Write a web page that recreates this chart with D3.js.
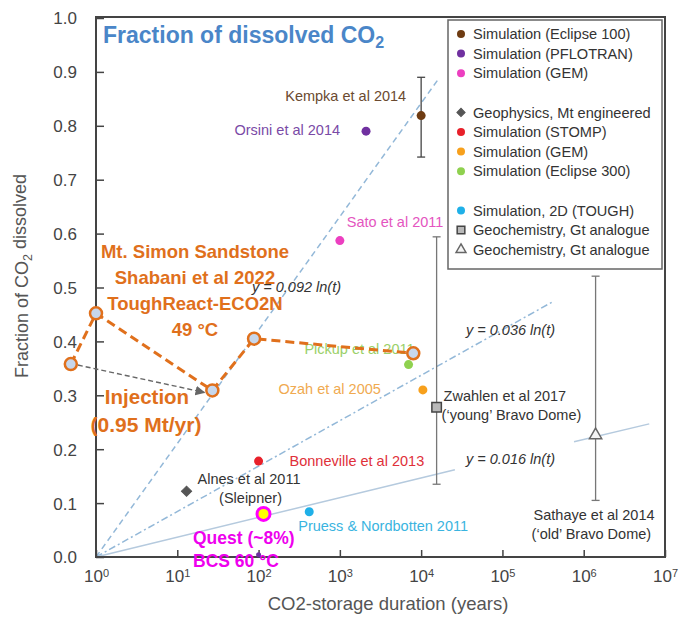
<!DOCTYPE html>
<meta charset="utf-8">
<style>
body { margin: 0; background: #fff; }
svg { font-family: "Liberation Sans", Arial, sans-serif; }
.tick line { stroke: #444; stroke-width: 1.5px; }
.tick text { fill: #444; font-size: 17px; }
.lbl { font-size: 14.5px; }
.fit-lbl { font-size: 14.5px; font-style: italic; fill: #333; }
.orange { fill: #e0701c; font-weight: bold; }
</style>
<html>
<body>
<script src="https://cdn.jsdelivr.net/npm/d3@7"></script>
<script>
// ---- data ----
var yTicks = [0, 0.1, 0.2, 0.3, 0.4, 0.5, 0.6, 0.7, 0.8, 0.9, 1.0];
var xTicks = [1, 10, 100, 1e3, 1e4, 1e5, 1e6, 1e7];

var legendLabels = [
  "Simulation (Eclipse 100)", "Simulation (PFLOTRAN)", "Simulation (GEM)",
  "Geophysics, Mt engineered", "Simulation (STOMP)", "Simulation (GEM)", "Simulation (Eclipse 300)",
  "Simulation, 2D (TOUGH)", "Geochemistry, Gt analogue", "Geochemistry, Gt analogue"
];
var legendGroup = [0, 0, 0, 1, 1, 1, 1, 2, 2, 2];

var studyNames = ["Kempka et al 2014", "Orsini et al 2014", "Sato et al 2011", "Pickup et al 2011",
  "Ozah et al 2005", "Bonneville et al 2013", "Alnes et al 2011", "Pruess & Nordbotten 2011",
  "Zwahlen et al 2017", "Sathaye et al 2014", ""];
var studyNotes = ["", "", "", "", "", "", "(Sleipner)", "", "(\u2018young\u2019 Bravo Dome)", "(\u2018old\u2019 Bravo Dome)", ""];
var studyYears = [1e4, 2100, 1000, 7000, 10500, 100, 13, 420, 15500, 1.4e6, 100];
var studyFraction = [0.819, 0.79, 0.587, 0.357, 0.31, 0.178, 0.122, 0.084, 0.278, 0.226, 0.004];
var studyCategory = [0, 1, 2, 6, 5, 4, 3, 7, 8, 9, 1];
var errLow = [0.742, null, null, null, null, null, null, null, 0.135, 0.105, null];
var errHigh = [0.89, null, null, null, null, null, null, null, 0.594, 0.521, null];

var shabaniYears = [0.49, 1, 27, 88, 8000];
var shabaniFraction = [0.358, 0.452, 0.309, 0.405, 0.378];

var questYears = [115];
var questFraction = [0.08];

var fitLabels = ["y = 0.092 ln(t)", "y = 0.036 ln(t)", "y = 0.016 ln(t)"];
var fitYears = [[1, 1.6e4], [1, 4.2e5], [1, 2.6e4], [7.6e5, 6.4e6]];
var fitFraction = [[0, 0.885], [0, 0.474], [0, 0.162], [0.214, 0.247]];
var fitOf = [0, 1, 2, 2];

// ---- styles ----
var catColor = ["#6e3b12", "#7030a0", "#ec3fc0", "#555555", "#e8202a", "#f7a01c", "#8fd14f", "#1fb0e8", "#b9b9b9", "#f4f4f4"];
var catShape = ["circle", "circle", "circle", "diamond", "circle", "circle", "circle", "circle", "square", "triangle"];
var labelColor = ["#6b4a30", "#7a4aa6", "#e455c0", "#333", "#e0303a", "#f0aa50", "#9ad068", "#3ab4e0", "#333", "#333"];
// label offsets from the marker (px)
var labelPlace = {
  "Kempka et al 2014": [-15, -15, "end"],
  "Orsini et al 2014": [-26, 4, "end"],
  "Sato et al 2011": [7, -14, "start"],
  "Pickup et al 2011": [6, -11, "end"],
  "Ozah et al 2005": [-42, 4, "end"],
  "Bonneville et al 2013": [31, 5, "start"],
  "Alnes et al 2011": [11, -7, "start"],
  "Pruess & Nordbotten 2011": [-11, 19, "start"],
  "Zwahlen et al 2017": [7, -6, "start"],
  "Sathaye et al 2014": [-62, 85, "start"]
};

var width = 679, height = 617;
var svg = d3.select("body").append("svg").attr("width", width).attr("height", height);

var x = d3.scaleLog().domain([1, 1e7]).range([96, 665]);
var y = d3.scaleLinear().domain([0, 1]).range([557, 18]);

// fit lines
var fitDash = ["6,4", "7,3,2,3", null];
fitYears.forEach(function(ts, i) {
  svg.append("line")
    .attr("x1", x(ts[0])).attr("y1", y(fitFraction[i][0]))
    .attr("x2", x(ts[1])).attr("y2", y(fitFraction[i][1]))
    .attr("stroke", i < 2 ? "#93b8d8" : "#b5cade")
    .attr("stroke-width", 1.5)
    .attr("stroke-dasharray", fitDash[fitOf[i]]);
});
var fitLblPos = [[252, 292], [466, 335], [466, 464]];
fitLabels.forEach(function(t, i) {
  svg.append("text").attr("class", "fit-lbl").attr("x", fitLblPos[i][0]).attr("y", fitLblPos[i][1]).text(t);
});

// axes
var yAxis = d3.axisLeft(y).tickValues(yTicks).tickSize(-8).tickPadding(19).tickFormat(d3.format(".1f"));
var gy = svg.append("g").attr("transform", "translate(96,0)").call(yAxis);
gy.select(".domain").remove();
gy.selectAll(".tick text").attr("dy", "0.35em");

var xAxis = d3.axisBottom(x).tickValues(xTicks).tickSize(-7).tickPadding(13).tickFormat("");
var gx = svg.append("g").attr("transform", "translate(0,557)").call(xAxis);
gx.select(".domain").remove();
gx.selectAll(".tick text").each(function(d) {
  var t = d3.select(this);
  t.text("10");
  t.append("tspan").attr("dy", "-0.45em").attr("font-size", "11px").text(Math.round(Math.log10(d)));
});

svg.append("rect").attr("x", 96).attr("y", 17).attr("width", 569).attr("height", 540)
  .attr("fill", "none").attr("stroke", "#444").attr("stroke-width", 2);

// axis titles
svg.append("text").attr("x", 388).attr("y", 610).attr("text-anchor", "middle")
  .attr("fill", "#555").attr("font-size", "18.5px").text("CO2-storage duration (years)");
var yt = svg.append("text").attr("transform", "translate(28,276) rotate(-90)").attr("text-anchor", "middle")
  .attr("fill", "#555").attr("font-size", "18px");
yt.append("tspan").text("Fraction of CO");
yt.append("tspan").attr("dy", "0.3em").attr("font-size", "12.5px").text("2");
yt.append("tspan").attr("dy", "-0.3em").text(" dissolved");

// chart title
var tt = svg.append("text").attr("x", 103).attr("y", 43).attr("fill", "#4a86c8")
  .attr("font-weight", "bold").attr("font-size", "23px");
tt.append("tspan").text("Fraction of dissolved CO");
tt.append("tspan").attr("dy", "0.3em").attr("font-size", "16px").text("2");

// markers
var symArea = { diamond: 52, square: 90, triangle: 65 };
function marker(g, shape, color, size, k) {
  if (shape == "circle") return g.append("circle").attr("r", size).attr("fill", color);
  var sym = shape == "triangle" ? d3.symbolTriangle : d3.symbolSquare;
  var p = g.append("path").attr("d", d3.symbol().type(sym).size(symArea[shape] * k)())
    .attr("fill", color).attr("stroke", shape == "diamond" ? color : shape == "square" ? "#444" : "#666")
    .attr("stroke-width", shape == "diamond" ? 1 : 1.5);
  if (shape == "diamond") p.attr("transform", "rotate(45)");
  return p;
}

// error bars
studyYears.forEach(function(t, i) {
  if (errLow[i] == null) return;
  var px = x(t), c = i == 0 ? "#444" : "#777";
  var eb = svg.append("g").attr("stroke", c).attr("stroke-width", 1.3);
  eb.append("line").attr("x1", px).attr("x2", px).attr("y1", y(errLow[i])).attr("y2", y(errHigh[i]));
  eb.append("line").attr("x1", px - 4).attr("x2", px + 4).attr("y1", y(errLow[i])).attr("y2", y(errLow[i]));
  eb.append("line").attr("x1", px - 4).attr("x2", px + 4).attr("y1", y(errHigh[i])).attr("y2", y(errHigh[i]));
});

// study points and labels
studyYears.forEach(function(t, i) {
  var px = x(t), py = y(studyFraction[i]), c = studyCategory[i];
  var g = svg.append("g").attr("transform", "translate(" + px + "," + py + ")");
  marker(g, catShape[c], catColor[c], i == 10 ? 2.5 : 4.5, 1);
  if (!studyNames[i]) return;
  var p = labelPlace[studyNames[i]];
  svg.append("text").attr("class", "lbl").attr("fill", labelColor[c])
    .attr("x", px + p[0]).attr("y", py + p[1]).attr("text-anchor", p[2]).text(studyNames[i]);
  if (studyNotes[i]) {
    var alnes = studyNames[i] == "Alnes et al 2011";
    svg.append("text").attr("class", "lbl").attr("fill", labelColor[c])
      .attr("x", alnes ? px + 64 : px + p[0] - 2).attr("y", py + p[1] + 19)
      .attr("text-anchor", alnes ? "middle" : "start").text(studyNotes[i]);
  }
});

// Shabani et al 2022 series
svg.append("defs").append("marker").attr("id", "arr").attr("viewBox", "0 0 10 10")
  .attr("refX", 9).attr("refY", 5).attr("markerWidth", 7).attr("markerHeight", 7).attr("orient", "auto")
  .append("path").attr("d", "M0,0L10,5L0,10z").attr("fill", "#666");
svg.append("line")
  .attr("x1", x(shabaniYears[0]) + 7).attr("y1", y(shabaniFraction[0]) + 1)
  .attr("x2", x(shabaniYears[2]) - 8).attr("y2", y(shabaniFraction[2]) + 2)
  .attr("stroke", "#666").attr("stroke-width", 1.4).attr("stroke-dasharray", "5,3")
  .attr("marker-end", "url(#arr)");

var line = d3.line().x(function(d) { return x(d[0]); }).y(function(d) { return y(d[1]); });
var sh = shabaniYears.map(function(t, i) { return [t, shabaniFraction[i]]; });
svg.append("path").attr("d", line(sh)).attr("fill", "none")
  .attr("stroke", "#e0701c").attr("stroke-width", 3).attr("stroke-dasharray", "9,5");
svg.selectAll(".sh").data(sh).enter().append("circle")
  .attr("cx", function(d) { return x(d[0]); }).attr("cy", function(d) { return y(d[1]); })
  .attr("r", 6).attr("fill", "#c7d7ec").attr("stroke", "#e0701c").attr("stroke-width", 2.5);

var ann = ["Mt. Simon Sandstone", "Shabani et al 2022", "ToughReact-ECO2N", "49 \u00b0C"];
ann.forEach(function(s, i) {
  svg.append("text").attr("class", "orange").attr("font-size", "18.5px").attr("text-anchor", "middle")
    .attr("x", 195).attr("y", 258 + i * 26).text(s);
});
svg.append("text").attr("class", "orange").attr("font-size", "20.5px").attr("text-anchor", "middle")
  .attr("x", 147).attr("y", 404).text("Injection");
svg.append("text").attr("class", "orange").attr("font-size", "21px").attr("text-anchor", "middle")
  .attr("x", 146).attr("y", 432).text("(0.95 Mt/yr)");

// Quest
svg.append("circle").attr("cx", x(questYears[0])).attr("cy", y(questFraction[0])).attr("r", 6.5)
  .attr("fill", "#ffff00").attr("stroke", "#ff00ff").attr("stroke-width", 3);
svg.append("text").attr("x", 193).attr("y", 544).attr("fill", "#ee00ee").attr("font-weight", "bold")
  .attr("font-size", "17.5px").text("Quest (~8%)");
svg.append("text").attr("x", 193).attr("y", 567).attr("fill", "#ee00ee").attr("font-weight", "bold")
  .attr("font-size", "17.5px").text("BCS 60 \u00b0C");

// legend
var lg = svg.append("g");
lg.append("rect").attr("x", 448).attr("y", 20).attr("width", 214).attr("height", 249)
  .attr("fill", "#fff").attr("stroke", "#666").attr("stroke-width", 1.5);
legendLabels.forEach(function(s, i) {
  var ly = 34 + (i + legendGroup[i]) * 19.6;
  var g = lg.append("g").attr("transform", "translate(461," + ly + ")");
  marker(g, catShape[i], catColor[i], 4, 0.65);
  lg.append("text").attr("x", 473).attr("y", ly).attr("dy", "0.35em")
    .attr("fill", "#333").attr("font-size", "14.6px").text(s);
});
</script>
</body>
</html>
